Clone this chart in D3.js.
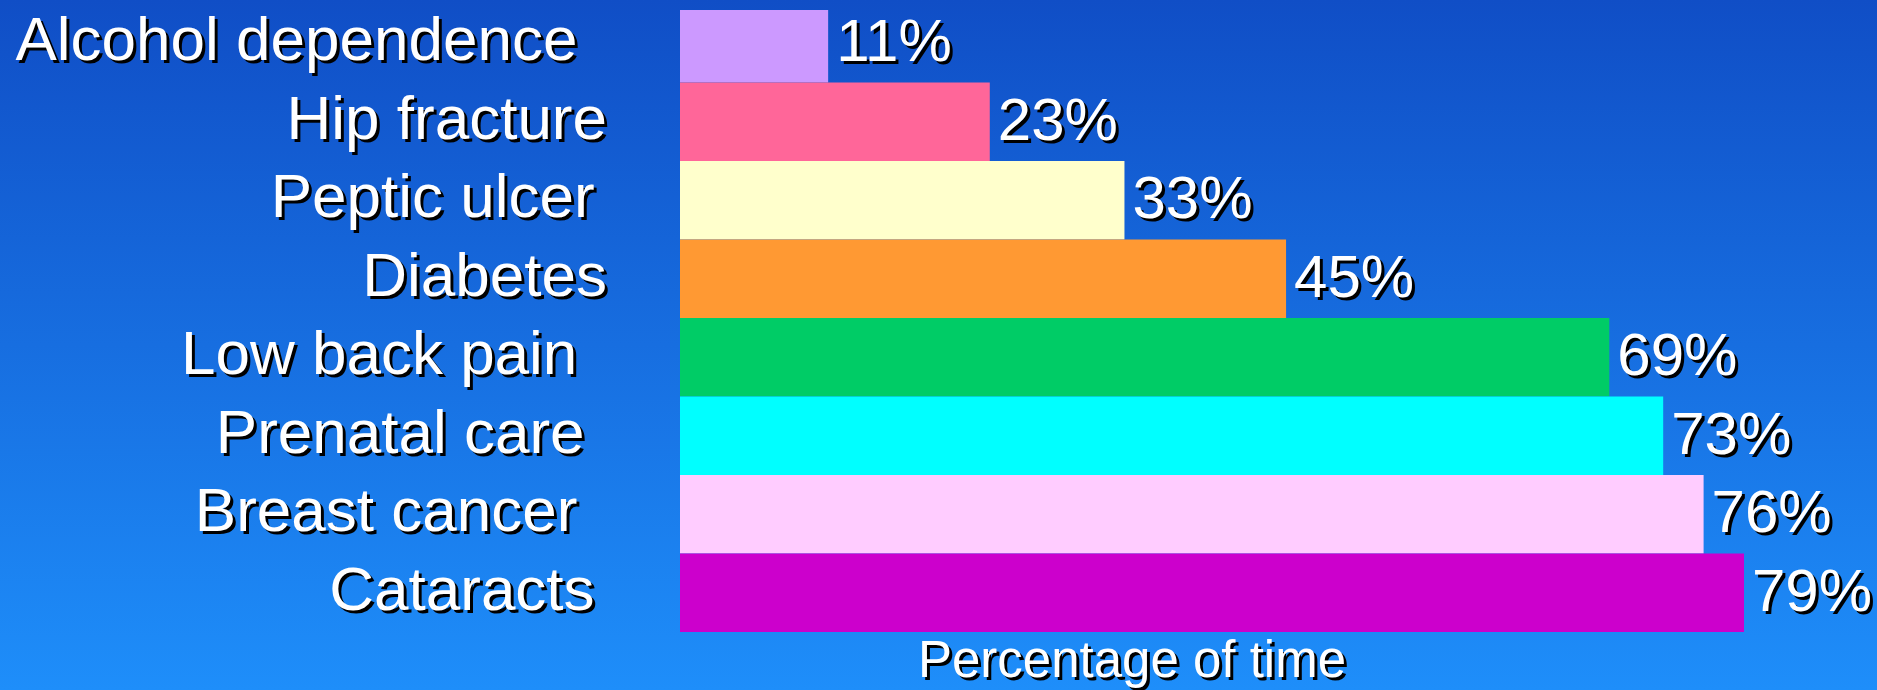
<!DOCTYPE html>
<html>
<head>
<meta charset="utf-8">
<script src="https://cdn.jsdelivr.net/npm/d3@7"></script>
<style>
  html, body { margin: 0; padding: 0; overflow: hidden; }
  text { font-family: "Liberation Sans", Arial, sans-serif; white-space: pre; }
</style>
</head>
<body>
<svg id="chart" width="1877" height="690"></svg>
<script>
// trailing spaces mimic the original slide's label spacing
const categories = ["Alcohol dependence \u2009", "Hip fracture", "Peptic ulcer\u2009", "Diabetes",
                    "Low back pain \u2009", "Prenatal care \u200A", "Breast cancer \u2009", "Cataracts\u2009"];
const values = [11, 23, 33, 45, 69, 73, 76, 79];
const colors = ["#CC99FF", "#FF6699", "#FFFFCC", "#FF9933", "#00CC66", "#00FFFF", "#FFCCFF", "#CC00CC"];
const axisTitle = "Percentage of time";

const svg = d3.select("#chart");
const W = 1877, H = 690;

const defs = svg.append("defs");
const grad = defs.append("linearGradient")
    .attr("id", "bg").attr("x1", 0).attr("y1", 0).attr("x2", 0).attr("y2", 1);
grad.append("stop").attr("offset", "0%").attr("stop-color", "#104EC6");
grad.append("stop").attr("offset", "100%").attr("stop-color", "#1E8EFA");
svg.append("rect").attr("width", W).attr("height", H).attr("fill", "url(#bg)");

// the top bar is cut a little in the original slide
defs.append("clipPath").attr("id", "plotclip")
  .append("rect").attr("x", 0).attr("y", 10).attr("width", W).attr("height", H);

const x = d3.scaleLinear().domain([0, 79]).range([680, 1744]);
const y = d3.scaleBand().domain(categories).range([4, 632]).padding(0);

const data = categories.map((c, i) => ({ cat: c, val: values[i], color: colors[i] }));

svg.append("g").attr("clip-path", "url(#plotclip)")
  .selectAll("rect").data(data).join("rect")
    .attr("x", x(0))
    .attr("y", d => y(d.cat))
    .attr("width", d => x(d.val) - x(0))
    .attr("height", y.bandwidth())
    .attr("fill", d => d.color);

// text with a black drop shadow, drawn twice
function shadowText(g, sel) {
    [["#000", 3], ["#fff", 0]].forEach(([fill, off]) => {
        sel(g.append("g").attr("transform", `translate(${off},${off})`)).attr("fill", fill);
    });
}

shadowText(svg, g => g.selectAll("text").data(data).join("text")
    .attr("x", 607)
    .attr("y", d => y(d.cat) + y.bandwidth() / 2 + 17)
    .attr("text-anchor", "end")
    .attr("font-size", 62)
    .text(d => d.cat));

shadowText(svg, g => g.selectAll("text").data(data).join("text")
    .attr("x", d => x(d.val) + 8)
    .attr("y", d => y(d.cat) + y.bandwidth() / 2 + 18)
    .attr("font-size", 60)
    .text(d => d.val + "%"));

shadowText(svg, g => g.append("text")
    .attr("x", 1132)
    .attr("y", 677)
    .attr("text-anchor", "middle")
    .attr("font-size", 51)
    .text(axisTitle));
</script>
</body>
</html>
